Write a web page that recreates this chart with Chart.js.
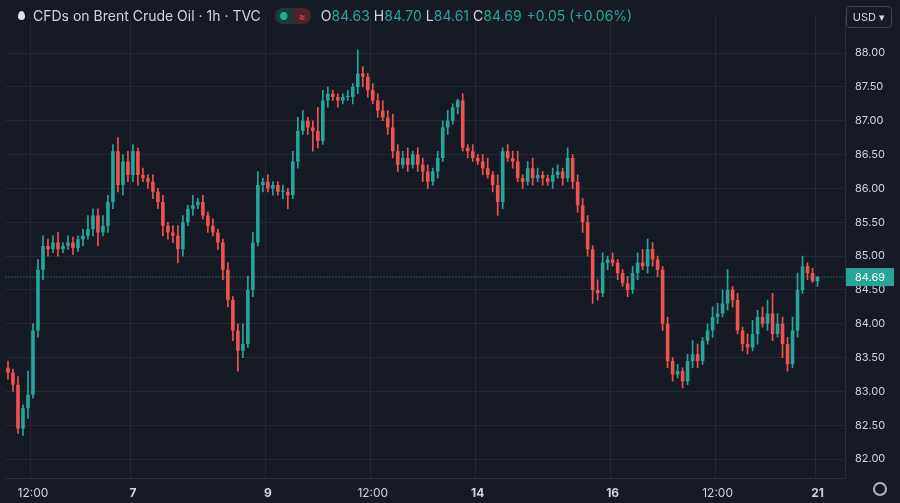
<!DOCTYPE html>
<html>
<head>
<meta charset="utf-8">
<script src="https://cdn.jsdelivr.net/npm/chart.js@4.4.0/dist/chart.umd.min.js"></script>
<style>
  body { margin: 0; background: #161a25; font-family: Inter, "Noto Sans", sans-serif; }
  #wrap { position: relative; width: 900px; height: 503px; }
  #hdr { position: absolute; left: 18px; top: 7px; color: #d1d4dc; font-size: 14px; display: flex; align-items: center; white-space: nowrap; }
  #hdr .drop { width: 7px; height: 9px; background: #e0e3eb; border-radius: 50% 50% 50% 50% / 65% 65% 40% 40%; margin-right: 8px; }
  #hdr .pill { display: inline-flex; margin: 0 10px 0 14px; border-radius: 8px; overflow: hidden; height: 16px; }
  #hdr .pill span { width: 18px; display: flex; align-items: center; justify-content: center; font-size: 10px; }
  #hdr .k { color: #d1d4dc; margin-left: 4px; }
  #hdr .v { color: #26a69a; }
  #usd { position: absolute; right: 8px; top: 6px; border: 1px solid #434651; border-radius: 4px; color: #d1d4dc; font-size: 11px; padding: 3px 6px; }
  #gear { position: absolute; right: 13px; bottom: 7px; width: 10px; height: 10px; border: 2px solid #b2b5be; border-radius: 50%; }
</style>
</head>
<body>
<div id="wrap">
  <canvas id="c" width="900" height="503"></canvas>
  <div id="hdr">
    <span class="drop"></span>CFDs on Brent Crude Oil · 1h · TVC
    <span class="pill"><span style="background:#1b3b39;color:#26a69a">●</span><span style="background:#4a2530;color:#f23645">≈</span></span>
    <span class="k" style="margin-left:0">O</span><span class="v">84.63</span>
    <span class="k">H</span><span class="v">84.70</span>
    <span class="k">L</span><span class="v">84.61</span>
    <span class="k">C</span><span class="v">84.69</span>
    <span class="v" style="margin-left:5px">+0.05 (+0.06%)</span>
  </div>
  <div id="usd">USD ▾</div>
  <div id="gear"></div>
</div>
<script>
var firstOpen = 83.35;
var closes = [
  83.28,83.10,82.45,82.75,82.95,83.90,84.80,85.15,85.10,85.20,
  85.10,85.15,85.20,85.12,85.25,85.30,85.40,85.60,85.35,85.45,
  85.80,86.55,86.05,86.40,86.20,86.55,86.20,86.15,86.10,85.95,
  85.80,85.45,85.35,85.30,85.10,85.50,85.70,85.75,85.80,85.60,
  85.45,85.35,85.20,84.80,84.35,83.90,83.60,83.70,84.50,85.20,
  86.05,86.10,86.00,86.05,85.95,85.95,85.90,86.40,86.85,87.00,
  86.90,86.85,86.70,87.30,87.40,87.35,87.30,87.35,87.35,87.50,
  87.70,87.65,87.45,87.30,87.15,87.05,86.90,86.55,86.35,86.45,
  86.35,86.50,86.35,86.25,86.10,86.25,86.45,86.90,87.00,87.20,
  87.30,86.60,86.55,86.45,86.40,86.30,86.20,86.05,85.80,86.55,
  86.45,86.40,86.15,86.10,86.30,86.15,86.20,86.15,86.10,86.20,
  86.25,86.15,86.45,86.10,85.75,85.50,85.10,84.50,84.45,84.90,
  84.95,84.90,84.75,84.60,84.50,84.75,84.90,84.85,85.10,84.95,
  84.80,84.00,83.45,83.25,83.30,83.15,83.45,83.55,83.45,83.75,
  83.90,84.10,84.15,84.30,84.50,84.35,83.90,83.70,83.65,83.85,
  84.10,84.00,84.15,83.85,84.00,83.70,83.40,83.90,84.50,84.85,
  84.75,84.63,84.69
];
var wickHi = [
  .10,.05,.12,.05,.35,.10,.15,.15,.10,.10,
  .15,.05,.10,.08,.05,.10,.20,.10,.10,.15,
  .10,.10,.20,.10,.15,.10,.05,.10,.05,.10,
  .05,.10,.05,.10,.15,.10,.05,.15,.05,.10,
  .05,.10,.05,.05,.10,.05,.10,.30,.20,.15,
  .20,.05,.10,.05,.05,.10,.05,.15,.20,.15,
  .05,.10,.35,.15,.10,.05,.05,.05,.10,.05,
  .35,.10,.05,.10,.10,.15,.10,.20,.10,.10,
  .15,.05,.10,.10,.10,.05,.10,.10,.15,.05,
  .02,.10,.05,.10,.05,.10,.15,.05,.15,.05,
  .10,.10,.15,.05,.10,.15,.10,.05,.05,.10,
  .10,.05,.15,.05,.10,.10,.10,.05,.15,.15,
  .05,.10,.05,.05,.10,.10,.15,.20,.15,.10,
  .05,.05,.10,.05,.10,.05,.10,.20,.15,.05,
  .10,.15,.15,.20,.30,.05,.10,.05,.15,.20,
  .10,.15,.20,.30,.15,.10,.10,.20,.25,.15,
  .05,.07,.01
];
var wickLo = [
  .10,.10,.07,.10,.15,.05,.10,.15,.10,.05,
  .10,.05,.05,.10,.05,.10,.05,.10,.20,.05,
  .10,.10,.10,.15,.10,.10,.15,.05,.10,.10,
  .10,.15,.10,.10,.20,.10,.05,.10,.05,.05,
  .10,.05,.10,.15,.10,.15,.30,.10,.05,.10,
  .05,.10,.05,.10,.05,.10,.20,.05,.10,.05,
  .10,.30,.10,.05,.10,.05,.10,.05,.05,.10,
  .10,.15,.10,.05,.10,.05,.10,.10,.10,.05,
  .10,.05,.10,.15,.10,.05,.10,.05,.10,.05,
  .10,.05,.10,.05,.05,.10,.05,.10,.20,.10,
  .05,.10,.05,.10,.05,.10,.05,.10,.05,.10,
  .05,.10,.05,.10,.10,.15,.10,.20,.10,.05,
  .10,.05,.10,.05,.10,.05,.10,.05,.10,.10,
  .10,.10,.10,.10,.05,.10,.05,.10,.10,.05,
  .05,.10,.10,.05,.10,.10,.05,.10,.10,.05,
  .15,.05,.10,.10,.05,.20,.10,.05,.10,.05,
  .10,.02,.08
];
// x axis labels by candle index
var tickIdx = [5, 25, 52, 73, 94, 121, 142, 162];
var tickText = ['12:00', '7', '9', '12:00', '14', '16', '12:00', '21'];
var lastPrice = 84.69;
var upColor = '#26a69a', downColor = '#ef5350';

var opens = [], bodies = [], wicks = [], colors = [], labels = [];
var emptySlots = 5;
for (var i = 0; i < closes.length + emptySlots; i++) {
    labels.push(i);
    if (i >= closes.length) { bodies.push(null); wicks.push(null); colors.push(upColor); continue; }
    var o = i === 0 ? firstOpen : closes[i - 1];
    var c = closes[i];
    opens.push(o);
    var lo = Math.min(o, c), hi = Math.max(o, c);
    if (hi - lo < 0.02) hi = lo + 0.02;
    bodies.push([lo, hi]);
    wicks.push([lo - wickLo[i], Math.max(o, c) + wickHi[i]]);
    colors.push(c >= o ? upColor : downColor);
}

var priceLine = {
    id: 'priceLine',
    afterDatasetsDraw: function(chart) {
        var ctx = chart.ctx, y = chart.scales.y.getPixelForValue(lastPrice), a = chart.chartArea;
        ctx.save();
        ctx.strokeStyle = upColor; ctx.setLineDash([1, 2]); ctx.lineWidth = 1;
        ctx.beginPath(); ctx.moveTo(a.left, y); ctx.lineTo(a.right, y); ctx.stroke();
        ctx.setLineDash([]);
        ctx.fillStyle = upColor;
        ctx.fillRect(a.right + 1, y - 9, 48, 18);
        ctx.fillStyle = '#ffffff'; ctx.font = '11px Inter, sans-serif';
        ctx.textBaseline = 'middle';
        ctx.fillText(lastPrice.toFixed(2), a.right + 10, y + 0.5);
        ctx.restore();
    }
};

new Chart(document.getElementById('c'), {
    type: 'bar',
    data: {
        labels: labels,
        datasets: [
            { data: wicks, backgroundColor: colors, barThickness: 1, grouped: false, order: 2 },
            { data: bodies, backgroundColor: colors, barPercentage: 0.72, categoryPercentage: 1, grouped: false, order: 1 }
        ]
    },
    options: {
        responsive: false,
        animation: false,
        layout: { autoPadding: false, padding: 0 },
        plugins: { legend: { display: false }, tooltip: { enabled: false } },
        scales: {
            x: {
                offset: true,
                grid: {
                    color: function(ctx) { return tickIdx.indexOf(ctx.tick && ctx.tick.value) >= 0 ? '#242833' : 'transparent'; },
                    drawTicks: false
                },
                border: { color: '#2a2e39' },
                afterFit: function(s) { s.height = 25; },
                ticks: {
                    autoSkip: false, maxRotation: 0, padding: 8,
                    color: '#d1d4dc',
                    font: function(ctx) {
                        var t = tickText[tickIdx.indexOf(ctx.tick && ctx.tick.value)];
                        return { family: 'Inter, sans-serif', size: 12, weight: t && t.indexOf(':') < 0 ? 'bold' : 'normal' };
                    },
                    callback: function(v) { var k = tickIdx.indexOf(v); return k >= 0 ? tickText[k] : ''; }
                }
            },
            y: {
                position: 'right',
                min: 81.72, max: 88.54,
                grid: { color: '#242833', drawTicks: false },
                border: { color: '#2a2e39' },
                afterFit: function(s) { s.width = 55; },
                afterBuildTicks: function(s) {
                    var t = [];
                    for (var p = 82; p <= 88.001; p += 0.5) t.push({ value: p });
                    s.ticks = t;
                },
                ticks: {
                    color: '#d1d4dc', padding: 10,
                    font: { family: 'Inter, sans-serif', size: 11 },
                    callback: function(v) { return v.toFixed(2); }
                }
            }
        }
    },
    plugins: [priceLine]
});
</script>
</body>
</html>
